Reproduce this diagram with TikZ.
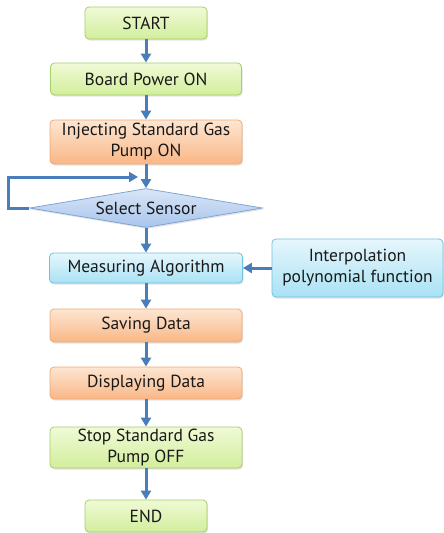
\documentclass[tikz,border=0pt]{standalone}
\usepackage{fontspec}
\setmainfont{PT Sans}
\usetikzlibrary{shapes.geometric,arrows.meta,shadows}
\definecolor{flowarrow}{HTML}{4A7EBB}
\definecolor{greentop}{HTML}{F0FAD6}
\definecolor{greenbot}{HTML}{D2EE9C}
\definecolor{greenline}{HTML}{A4CF6A}
\definecolor{orangetop}{HTML}{FDE6D2}
\definecolor{orangebot}{HTML}{F9B786}
\definecolor{orangeline}{HTML}{F2A870}
\definecolor{bluetop}{HTML}{E6F6FC}
\definecolor{bluebot}{HTML}{A9E2F4}
\definecolor{blueline}{HTML}{6FC2DE}
\definecolor{diatop}{HTML}{D8E6F7}
\definecolor{diabot}{HTML}{A9C5EC}
\definecolor{dialine}{HTML}{7FA5D6}
\tikzset{
  labelfont/.style={font=\fontsize{17.5}{21}\selectfont, text=black!90},
  box/.style={rounded corners=4pt, line width=0.8pt, align=center,
    labelfont, inner sep=0pt,
    drop shadow={opacity=0.22, shadow xshift=1pt, shadow yshift=-1.5pt}},
  greenbox/.style={box, draw=greenline, top color=greentop, bottom color=greenbot},
  orangebox/.style={box, draw=orangeline, top color=orangetop, bottom color=orangebot},
  bluebox/.style={box, draw=blueline, top color=bluetop, bottom color=bluebot},
  decision/.style={diamond, aspect=6, inner sep=0pt, line width=0.8pt,
    draw=dialine, top color=diatop, bottom color=diabot, labelfont,
    drop shadow={opacity=0.22, shadow xshift=1pt, shadow yshift=-1.5pt}},
  flow/.style={draw=flowarrow, line width=3pt, -{Triangle[width=10pt,length=9pt]}}
}
\begin{document}
\begin{tikzpicture}[x=1pt,y=-1pt]
  \useasboundingbox (0,0) rectangle (444,533);
  % main column of steps
  \node[greenbox, minimum width=122pt, minimum height=32pt] (start) at (146,23) {START};
  \node[greenbox, minimum width=191pt, minimum height=32pt] (power) at (146,79) {Board Power ON};
  \node[orangebox, minimum width=192pt, minimum height=44pt] (inject) at (146,142) {Injecting Standard Gas\\Pump ON};
  \node[decision, minimum width=233pt, minimum height=39pt] (select) at (146,208) {Select Sensor};
  \node[bluebox, minimum width=193pt, minimum height=30pt] (measure) at (146,268) {Measuring Algorithm};
  \node[bluebox, minimum width=171pt, minimum height=58pt] (interp) at (357.5,268) {Interpolation\\polynomial function};
  \node[orangebox, minimum width=192pt, minimum height=33pt] (save) at (146,325.5) {Saving Data};
  \node[orangebox, minimum width=192pt, minimum height=32pt] (display) at (146,383) {Displaying Data};
  \node[greenbox, minimum width=192pt, minimum height=41pt] (stop) at (146,447.5) {Stop Standard Gas\\Pump OFF};
  \node[greenbox, minimum width=122pt, minimum height=32pt] (end) at (146,516) {END};
  % connectors
  \draw[flow] (start) -- (power);
  \draw[flow] (power) -- (inject);
  \draw[flow] (inject) -- (select);
  \draw[flow] (select) -- (measure);
  \draw[flow] (measure) -- (save);
  \draw[flow] (save) -- (display);
  \draw[flow] (display) -- (stop);
  \draw[flow] (stop) -- (end);
  \draw[flow] (interp) -- (measure);
  % loop back into the sensor selection
  \coordinate (loopend) at (138,177);
  \draw[flow] (select.west) -- ++(-21,0) |- (loopend);
\end{tikzpicture}
\end{document}
